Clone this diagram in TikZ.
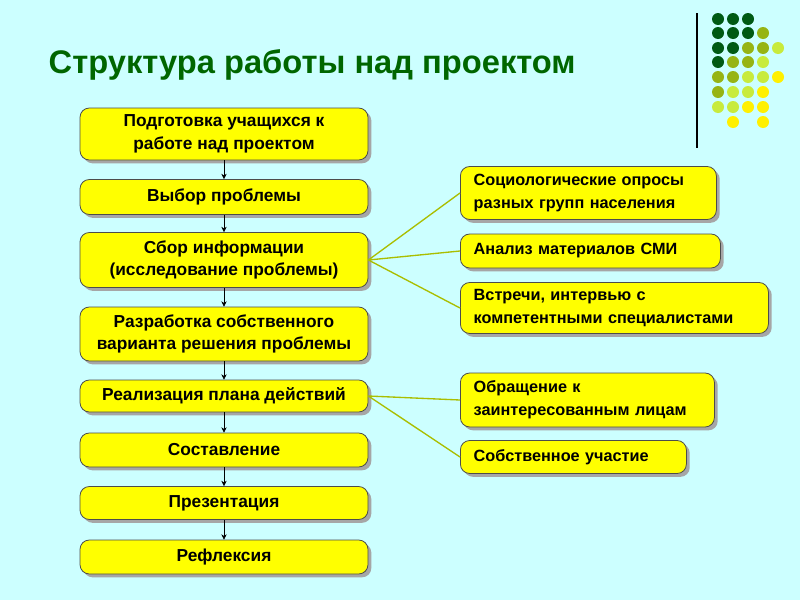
\documentclass[tikz,border=0pt]{standalone}
\usepackage{fontspec}
\setmainfont{Liberation Sans}
\usetikzlibrary{arrows.meta,positioning,shadows}
\definecolor{bgcol}{RGB}{204,255,255}
\definecolor{boxcol}{RGB}{255,255,0}
\definecolor{titlecol}{RGB}{0,102,0}
\definecolor{linkcol}{RGB}{170,190,0}
\definecolor{dkg}{RGB}{0,90,20}
\definecolor{olv}{RGB}{150,180,20}
\definecolor{lim}{RGB}{200,235,60}
\definecolor{ylw}{RGB}{255,240,0}
\tikzset{
  stepbox/.style={draw=black!70, fill=boxcol, rounded corners=7pt, minimum width=288*0.75pt,
    align=center, font=\bfseries\fontsize{13}{17}\selectfont, line width=0.6pt, inner sep=1pt,
    drop shadow={shadow xshift=2.5pt, shadow yshift=-2.5pt, fill=gray!70, opacity=1}},
  sidebox/.style={stepbox, align=left, minimum width=0pt, text width=#1*0.75pt-20pt, inner xsep=10pt,
    anchor=west, font=\bfseries\fontsize{12.2}{17}\selectfont},
  flow/.style={-{Stealth[length=4pt,width=4pt]}, black},
  link/.style={linkcol, line width=1pt},
  dot/.style={circle, inner sep=0pt, minimum size=9pt, fill=#1}
}
\begin{document}
\begin{tikzpicture}[x=0.75pt,y=-0.75pt]
\useasboundingbox[fill=bgcol] (0,0) rectangle (800,600);
% title and decoration
\node[anchor=west, text=titlecol, font=\bfseries\fontsize{24.5}{28}\selectfont] (title) at (44,65) {Структура работы над проектом};
\draw[black, line width=1pt] (697,13) -- (697,148);
\foreach \row/\y in {{dkg,dkg,dkg,none,none}/19,{dkg,dkg,dkg,olv,none}/33,{dkg,dkg,olv,olv,lim}/48,
  {dkg,olv,olv,lim,none}/62,{olv,olv,lim,lim,ylw}/77,{olv,lim,lim,ylw,none}/92,
  {lim,lim,ylw,ylw,none}/107,{none,ylw,none,ylw,none}/122}
  \foreach \c [count=\i] in \row
    \ifx\c\empty\else\node[dot=\c] at (703+15*\i,\y) {};\fi
% main steps
\node[stepbox, minimum height=52*0.75pt] (s1) at (224,134) {Подготовка учащихся к\\работе над проектом};
\node[stepbox, minimum height=35*0.75pt] (s2) at (224,197) {Выбор проблемы};
\node[stepbox, minimum height=55*0.75pt] (s3) at (224,260) {Сбор информации\\(исследование проблемы)};
\node[stepbox, minimum height=54*0.75pt] (s4) at (224,334) {Разработка собственного\\варианта решения проблемы};
\node[stepbox, minimum height=32*0.75pt] (s5) at (224,396) {Реализация плана действий};
\node[stepbox, minimum height=34*0.75pt] (s6) at (224,450) {Составление};
\node[stepbox, minimum height=33*0.75pt] (s7) at (224,503) {Презентация};
\node[stepbox, minimum height=34*0.75pt] (s8) at (224,557) {Рефлексия};
\foreach \a/\b in {s1/s2,s2/s3,s3/s4,s4/s5,s5/s6,s6/s7,s7/s8}
  \draw[flow] (\a) -- (\b);
% side boxes
\node[sidebox=256, minimum height=53*0.75pt] (r1) at (460,193) {Социологические опросы\\разных групп населения};
\node[sidebox=260, minimum height=34*0.75pt] (r2) at (460,251) {Анализ материалов СМИ};
\node[sidebox=308, minimum height=51*0.75pt] (r3) at (460,308) {Встречи, интервью с\\компетентными специалистами};
\node[sidebox=254, minimum height=54*0.75pt] (r4) at (460,400) {Обращение к\\заинтересованным лицам};
\node[sidebox=226, minimum height=33*0.75pt] (r5) at (460,457) {Собственное участие};
\foreach \b in {r1,r2,r3} \draw[link] (s3.east) -- (\b.west);
\foreach \b in {r4,r5} \draw[link] (s5.east) -- (\b.west);
\end{tikzpicture}
\end{document}
